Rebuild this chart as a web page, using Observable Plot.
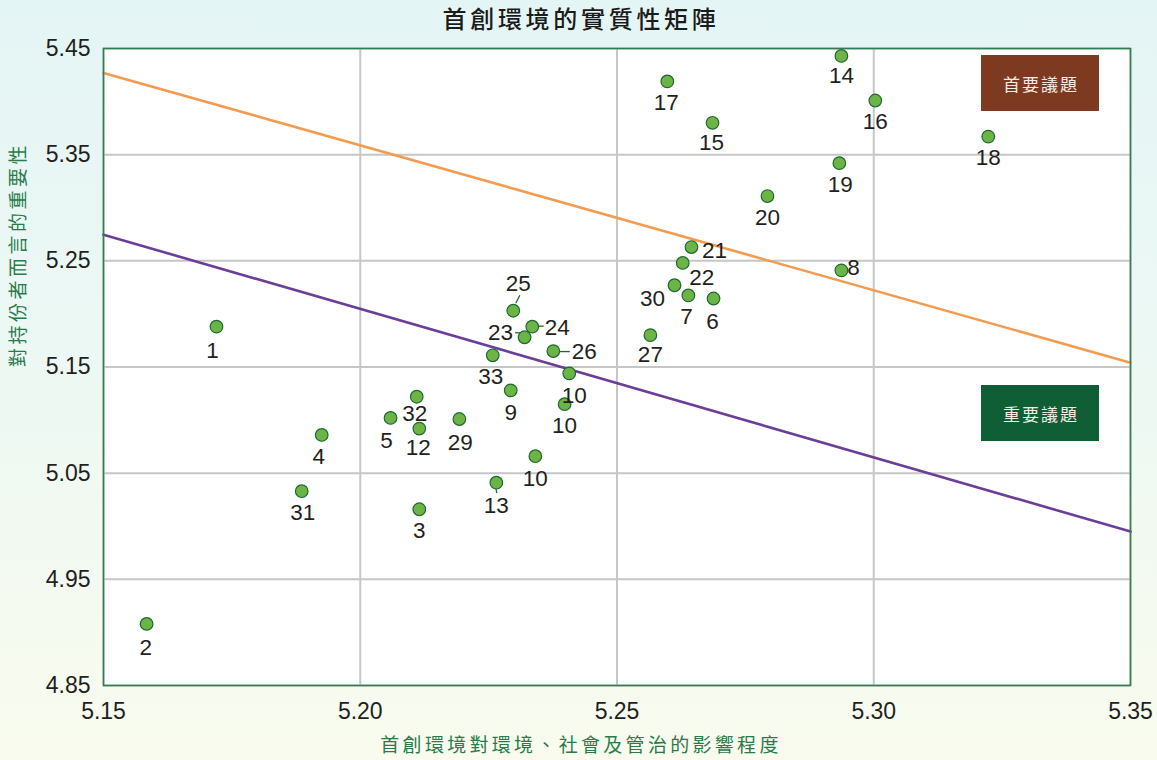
<!DOCTYPE html>
<html><head><meta charset="utf-8">
<script src="https://cdn.jsdelivr.net/npm/d3@7"></script>
<script src="https://cdn.jsdelivr.net/npm/@observablehq/plot@0.6"></script>
<style>
html,body{margin:0;padding:0;}
body{width:1157px;height:760px;overflow:hidden;background:linear-gradient(180deg,#e4f5f5 0%,#ecf8f4 45%,#f9fbee 100%);}
#chart svg{display:block;}
</style></head><body><div id="chart"></div>
<script>
// ---- data ----
const labels = ["1","2","3","4","5","6","7","8","9","10","10","10","12","13","14","15","16","17","18","19","20","21","22","23","24","25","26","27","29","30","31","32","33"];
const impact = [5.172,5.1584,5.2115,5.1925,5.2059,5.2688,5.2639,5.2937,5.2293,5.2407,5.2398,5.2341,5.2115,5.2265,5.2937,5.2686,5.3003,5.2598,5.3223,5.2933,5.2793,5.2645,5.2628,5.2320,5.2335,5.2298,5.2376,5.2565,5.2193,5.2612,5.1886,5.2110,5.2258];
const importance = [5.188,4.908,5.016,5.086,5.102,5.2145,5.2174,5.241,5.128,5.144,5.115,5.066,5.092,5.041,5.443,5.380,5.401,5.419,5.367,5.342,5.311,5.263,5.248,5.178,5.188,5.203,5.165,5.180,5.101,5.227,5.033,5.122,5.161];
const lineX = [5.15, 5.35];
const primaryLineY = [5.427, 5.154];
const importantLineY = [5.2746, 4.995];
const xTicks = [5.15, 5.20, 5.25, 5.30, 5.35];
const yTicks = [4.85, 4.95, 5.05, 5.15, 5.25, 5.35, 5.45];
const TITLE = "首創環境的實質性矩陣";
const XLABEL = "首創環境對環境、社會及管治的影響程度";
const YLABEL = "對持份者而言的重要性";
const BOX_PRIMARY = "首要議題";
const BOX_IMPORTANT = "重要議題";

// ---- label placement (pixel offsets from each point) ----
const labelOffsets = [[-4,24],[-1,24],[0,22],[-3,22],[-4,23],[-1,23],[-2,21],[12,-3],[0,22],[5,22],[0,22],[0,23],[-1,19],[0,23],[0,20],[-1,20],[0,21],[-1,21],[0,21],[1,22],[0,22],[23,4],[19,15],[-24,-4],[25,1],[5,-27],[31,1],[0,20],[1,24],[-22,14],[1,22],[-2,17],[-2,21]];
const leaders = [
  {i:23, a:[-9,-4], b:[-3,-4]},
  {i:24, a:[5,0], b:[12,0]},
  {i:25, a:[7,-15], b:[3,-7]},
  {i:26, a:[7,1], b:[17,1]},
  {i:13, a:[0,6], b:[1,11]}
];

const idx = labels.map((_, i) => i);
const NUM_FONT = "Liberation Sans, Arial, sans-serif";
const CJK_FONT = "Noto Sans CJK TC, sans-serif";

const labelMarks = idx.map(i => Plot.text([i], {
  x: d => impact[d], y: d => importance[d], text: d => labels[d],
  dx: labelOffsets[i][0], dy: labelOffsets[i][1],
  fontSize: 22.5, fill: "#231f20", fontFamily: NUM_FONT, lineAnchor: "middle"
}));

function leaderMark(index, scales) {
  const g = d3.create("svg:g").attr("stroke", "#1d6a31").attr("stroke-width", 1.3);
  for (const l of leaders) {
    const px = scales.x(impact[l.i]), py = scales.y(importance[l.i]);
    g.append("line").attr("x1", px + l.a[0]).attr("y1", py + l.a[1])
      .attr("x2", px + l.b[0]).attr("y2", py + l.b[1]);
  }
  return g.node();
}

function boxMark(text, fill, topOffset) {
  return (index, scales, values, dims) => {
    const right = dims.width - dims.marginRight;
    const w = 118, h = 56;
    const x = right - 31 - w, y = dims.marginTop + topOffset;
    const g = d3.create("svg:g");
    g.append("rect").attr("x", x).attr("y", y).attr("width", w).attr("height", h).attr("fill", fill);
    g.append("text").attr("x", x + w / 2 + 1).attr("y", y + h / 2)
      .attr("text-anchor", "middle").attr("dominant-baseline", "central")
      .attr("fill", "#f4ece4").attr("font-size", 17).attr("letter-spacing", "2px")
      .attr("font-family", CJK_FONT).text(text);
    return g.node();
  };
}

const chart = Plot.plot({
  width: 1157, height: 760,
  marginLeft: 103, marginRight: 27, marginTop: 48, marginBottom: 75,
  style: {fontFamily: NUM_FONT, color: "#231f20", background: "transparent", overflow: "visible"},
  x: {domain: [5.15, 5.35]},
  y: {domain: [4.85, 5.45]},
  marks: [
    Plot.frame({fill: "white", stroke: null}),
    Plot.gridX(xTicks, {stroke: "#c6c6c6", strokeOpacity: 1, strokeWidth: 2}),
    Plot.gridY(yTicks, {stroke: "#c6c6c6", strokeOpacity: 1, strokeWidth: 2}),
    Plot.line(lineX.map((x, i) => ({x, y: primaryLineY[i]})), {x: "x", y: "y", stroke: "#f39b4f", strokeWidth: 2.6}),
    Plot.line(lineX.map((x, i) => ({x, y: importantLineY[i]})), {x: "x", y: "y", stroke: "#6b3f99", strokeWidth: 2.6}),
    leaderMark,
    Plot.dot(idx, {x: i => impact[i], y: i => importance[i], r: 6.3, fill: "#6db446", stroke: "#1d6a31", strokeWidth: 1.2}),
    ...labelMarks,
    Plot.frame({stroke: "#2f7d52", strokeWidth: 1.6}),
    boxMark(BOX_PRIMARY, "#7e3a20", 7),
    boxMark(BOX_IMPORTANT, "#0f5e36", 337),
    Plot.axisX(xTicks, {tickSize: 0, tickPadding: 17, tickFormat: d3.format(".2f"), fontSize: 23, label: null, fill: "#231f20"}),
    Plot.axisY(yTicks, {tickSize: 0, tickPadding: 13, tickFormat: d3.format(".2f"), fontSize: 23, label: null, fill: "#231f20"}),
    Plot.text([TITLE], {text: d => d, frameAnchor: "top", dx: -36, dy: -28, fontSize: 24, fontWeight: 500, fill: "#1b1b1b", fontFamily: CJK_FONT, lineAnchor: "middle"}),
    Plot.text([XLABEL], {text: d => d, frameAnchor: "bottom", dx: -36, dy: 60, fontSize: 19, fill: "#2b7a4b", fontFamily: CJK_FONT, lineAnchor: "middle"}),
    Plot.text([YLABEL], {text: d => d, frameAnchor: "left", dx: -85, rotate: -90, fontSize: 19, fill: "#2b7a4b", fontFamily: CJK_FONT, lineAnchor: "middle"})
  ]
});
document.getElementById("chart").appendChild(chart);
const spacing = {[TITLE]: "3.7px", [XLABEL]: "3.3px", [YLABEL]: "3.5px"};
d3.select(chart).selectAll("text").each(function() {
  const s = spacing[this.textContent];
  if (s) d3.select(this).attr("letter-spacing", s);
});
</script></body></html>
